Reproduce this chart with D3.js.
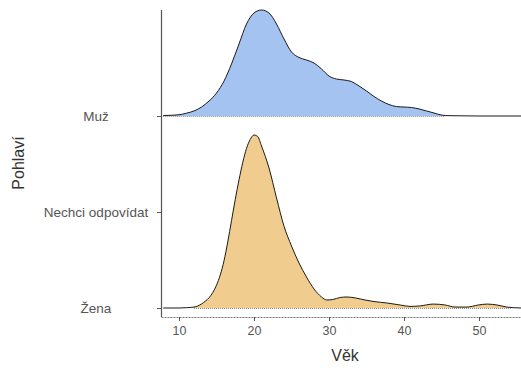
<!DOCTYPE html>
<html>
<head>
<meta charset="utf-8">
<script src="https://cdn.jsdelivr.net/npm/d3@7"></script>
<style>
  body { margin: 0; background: #fff; }
  svg { display: block; font-family: "Liberation Sans", Arial, sans-serif; }
  .line { fill: none; stroke: #1a1a1a; stroke-width: 1; }
</style>
</head>
<body>
<script>
// kategorie (odspodu nahoru)
var categories = ["Žena", "Nechci odpovídat", "Muž"];
var xTicks = [10, 20, 30, 40, 50];

// odhad hustoty - Muž
var muzAge = [7.9, 10, 11, 12, 13, 14, 15, 16, 17, 18, 19, 20, 21, 22, 23, 24, 25, 26, 27, 28, 29,
              30, 31, 32, 33, 34, 35, 36, 37, 38, 39, 40, 41, 42, 43, 44, 45, 46, 50, 55.6];
var muzDens = [0.0003, 0.0008, 0.0018, 0.0032, 0.0057, 0.0095, 0.0146, 0.0222, 0.0331, 0.0458,
               0.0585, 0.0655, 0.0674, 0.0655, 0.0585, 0.049, 0.0407, 0.0372, 0.0356, 0.0337,
               0.0299, 0.0254, 0.0235, 0.0229, 0.0219, 0.0191, 0.0159, 0.0124, 0.0095, 0.0073,
               0.006, 0.0057, 0.0054, 0.0045, 0.0032, 0.0019, 0.0006, 0.0002, 0, 0];

// odhad hustoty - Žena
var zenaAge = [7.9, 10, 11, 12, 12.5, 13, 13.5, 14, 14.5, 15, 15.5, 16, 16.5, 17, 17.5, 18, 18.5, 19,
               19.5, 20, 20.5, 21, 22, 23, 24, 25, 26, 27, 28, 29, 29.7, 30.5, 31.5, 32.4, 33.5,
               34.8, 36, 37.7, 39.5, 40.8, 42.1, 43.9, 45.5, 46.8, 48.4, 49.9, 51.1, 52.4, 53.7, 55.6];
var zenaDens = [0, 0, 0.0002, 0.0006, 0.0013, 0.0026, 0.0043, 0.0065, 0.0098, 0.0145, 0.0210,
                0.0300, 0.0420, 0.0555, 0.0690, 0.0815, 0.0925, 0.1015, 0.1072, 0.1100, 0.1090,
                0.1030, 0.0890, 0.0700, 0.0520, 0.0394, 0.0286, 0.0197, 0.0121, 0.0070, 0.0051,
                0.0054, 0.0067, 0.007, 0.0064, 0.0051, 0.0041, 0.0032, 0.0019, 0.001, 0.0013,
                0.0025, 0.0019, 0.0006, 0.0006, 0.0019, 0.0025, 0.0019, 0.0006, 0];

var svgWidth = 521, svgHeight = 374;
var margin = {top: 10, right: 0, bottom: 57, left: 161};
var width = svgWidth - margin.left - margin.right,
    height = svgHeight - margin.top - margin.bottom;

var series = [
    {key: "Muž", fill: "#a5c3f1", values: muzAge.map(function(a, i){ return {age: a, d: muzDens[i]}; })},
    {key: "Žena", fill: "#f0cd8e", values: zenaAge.map(function(a, i){ return {age: a, d: zenaDens[i]}; })}
];

var svg = d3.select("body").append("svg")
    .attr("width", svgWidth)
    .attr("height", svgHeight)
  .append("g")
    .attr("transform", "translate(" + margin.left + "," + margin.top + ")");

var xScale = d3.scaleLinear()
    .domain([7.6, 55.6])
    .range([0, width]);

var yScale = d3.scalePoint()
    .domain(categories)
    .range([298, 106]);

// vyska hrbolu
var hScale = d3.scaleLinear()
    .domain([0, 0.11])
    .range([0, 173]);

svg.append("defs").append("clipPath").attr("id", "clip")
  .append("rect").attr("x", 0).attr("y", -10).attr("width", width).attr("height", height + 10);

// hustoty
series.forEach(function(s){
    var base = yScale(s.key);
    var area = d3.area()
        .curve(d3.curveMonotoneX)
        .x(function(d){ return xScale(d.age); })
        .y0(base)
        .y1(function(d){ return base - hScale(d.d); });
    var line = area.lineY1();

    var g = svg.append("g").attr("clip-path", "url(#clip)");
    g.append("path")
        .datum(s.values)
        .attr("fill", s.fill)
        .attr("d", area);

    // teckovany spodni okraj
    var vis = s.values.filter(function(d){ return hScale(d.d) > 0.4; });
    g.append("line")
        .attr("x1", xScale(vis[0].age))
        .attr("x2", xScale(vis[vis.length - 1].age) + 4)
        .attr("y1", base + 0.5)
        .attr("y2", base + 0.5)
        .attr("stroke", "#8a8a8a")
        .attr("stroke-dasharray", "1,1");

    g.append("path")
        .datum(s.values)
        .attr("class", "line")
        .attr("d", line);
});

// osa Y
var yAxis = svg.append("g")
    .call(d3.axisLeft(yScale).tickSize(4).tickSizeOuter(0));
yAxis.select(".domain").remove();
yAxis.append("line")
    .attr("x1", 0.5).attr("x2", 0.5)
    .attr("y1", 0).attr("y2", 307)
    .attr("stroke", "#555").attr("stroke-width", 1.2);
yAxis.selectAll(".tick line").attr("stroke", "#555");
yAxis.selectAll(".tick text")
    .attr("text-anchor", "middle")
    .attr("x", -65)
    .attr("font-size", "13.5px")
    .attr("font-family", "Liberation Sans, Arial, sans-serif")
    .attr("fill", "#555");

// osa X
var xAxis = svg.append("g")
    .attr("transform", "translate(0," + 307 + ")")
    .call(d3.axisBottom(xScale).tickValues(xTicks).tickSize(4).tickSizeOuter(0));
xAxis.select(".domain")
    .attr("stroke", "#777")
    .attr("stroke-dasharray", "2,1");
xAxis.selectAll(".tick line").attr("stroke", "#555");
xAxis.selectAll(".tick text")
    .attr("y", 9)
    .attr("font-size", "12.5px")
    .attr("font-family", "Liberation Sans, Arial, sans-serif")
    .attr("fill", "#555");

// popisky os
svg.append("text")
    .attr("x", width / 2 + 4)
    .attr("y", 351)
    .attr("text-anchor", "middle")
    .attr("font-size", "16px")
    .attr("fill", "#333")
    .text("Věk");

svg.append("text")
    .attr("transform", "translate(" + (-137) + "," + 153 + ") rotate(-90)")
    .attr("text-anchor", "middle")
    .attr("font-size", "16px")
    .attr("fill", "#333")
    .text("Pohlaví");
</script>
</body>
</html>
